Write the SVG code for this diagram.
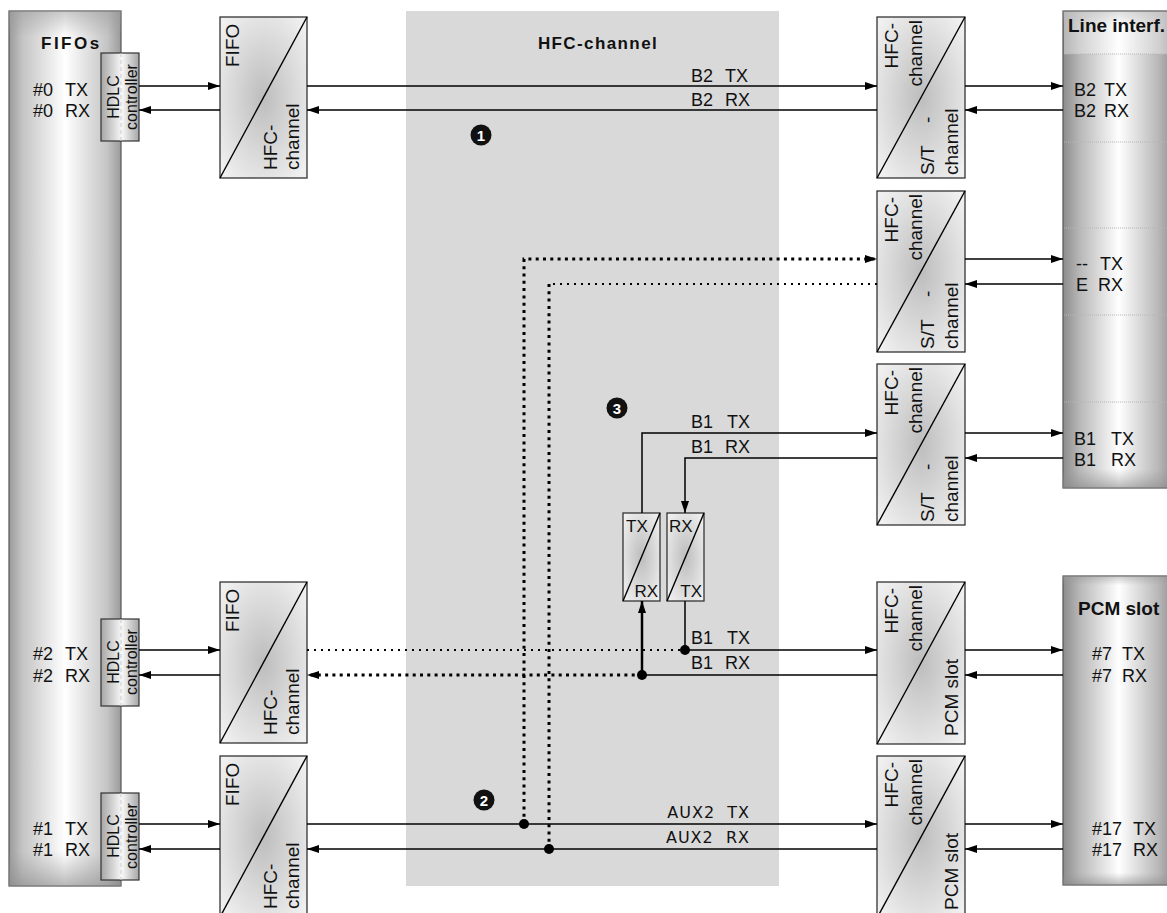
<svg xmlns="http://www.w3.org/2000/svg" width="1167" height="913" viewBox="0 0 1167 913">
<defs>
<radialGradient id="gBox" cx="50%" cy="50%" r="65%">
<stop offset="0" stop-color="#bdbdbd"/>
<stop offset="1" stop-color="#f0f0f0"/>
</radialGradient>
<linearGradient id="gFifos" x1="0" y1="0" x2="1" y2="0">
<stop offset="0" stop-color="#9a9a9a"/>
<stop offset="0.12" stop-color="#c4c4c4"/>
<stop offset="0.5" stop-color="#ffffff"/>
<stop offset="0.88" stop-color="#c4c4c4"/>
<stop offset="1" stop-color="#9a9a9a"/>
</linearGradient>
<linearGradient id="gVert" x1="0" y1="0" x2="0" y2="1">
<stop offset="0" stop-color="#999" stop-opacity="0.5"/>
<stop offset="0.03" stop-color="#999" stop-opacity="0"/>
<stop offset="0.96" stop-color="#999" stop-opacity="0"/>
<stop offset="1" stop-color="#888" stop-opacity="0.6"/>
</linearGradient>
<linearGradient id="gRight" x1="0" y1="0" x2="1" y2="0">
<stop offset="0" stop-color="#8c8c8c"/>
<stop offset="0.15" stop-color="#b8b8b8"/>
<stop offset="0.5" stop-color="#ffffff"/>
<stop offset="0.85" stop-color="#b8b8b8"/>
<stop offset="1" stop-color="#8c8c8c"/>
</linearGradient>
<linearGradient id="gHdlc" x1="0" y1="0" x2="1" y2="0">
<stop offset="0" stop-color="#a6a6a6"/>
<stop offset="0.55" stop-color="#f8f8f8"/>
<stop offset="1" stop-color="#a6a6a6"/>
</linearGradient>
<marker id="arr" markerUnits="userSpaceOnUse" markerWidth="13" markerHeight="9" refX="12" refY="4" orient="auto">
<path d="M0,0 L12,4 L0,8 z" fill="#000"/>
</marker>
<style>
text{font-family:"Liberation Sans",Arial,sans-serif;fill:#111;}
.lbl{font-size:18px;}
.ttl{font-size:17px;}
.rl{font-size:19px;}
.hd{font-size:16px;}
.title{font-weight:bold;}
.box{fill:url(#gBox);stroke:#333;stroke-width:1.3;}
.diag{stroke:#000;stroke-width:1.4;fill:none;}
.ln{stroke:#000;stroke-width:1.5;fill:none;}
.arr{marker-end:url(#arr);}
.dot{stroke:#000;stroke-width:3;stroke-dasharray:3 4.3;fill:none;}
.dotl{stroke:#000;stroke-width:2;stroke-dasharray:2 5;fill:none;}
.aux{font-family:"DejaVu Sans",Verdana,sans-serif;font-size:16px;letter-spacing:1px;}
.num{font-family:"Liberation Sans",Arial,sans-serif;font-weight:bold;font-size:15px;fill:#fff;}
.sep{stroke:#b5b5b5;stroke-width:1;stroke-dasharray:1 1;}
</style>
</defs>
<rect width="1167" height="913" fill="#fff"/>

<g id="hfc-channel-area">
<rect x="406" y="11" width="373" height="875" fill="#d9d9d9"/>
<text x="598" y="49" text-anchor="middle" class="ttl title" style="letter-spacing:1.4px">HFC-channel</text>
</g>

<g id="fifos">
<rect x="9" y="11" width="112" height="875" fill="url(#gFifos)" stroke="#555" stroke-width="1.2"/>
<rect x="9" y="11" width="112" height="875" fill="url(#gVert)"/>
<text x="41" y="49" class="ttl title" style="letter-spacing:2.5px">FIFOs</text>
<text y="96" class="lbl"><tspan x="33">#0</tspan><tspan x="65">TX</tspan></text>
<text y="117" class="lbl"><tspan x="33">#0</tspan><tspan x="65">RX</tspan></text>
<text y="660" class="lbl"><tspan x="33">#2</tspan><tspan x="65">TX</tspan></text>
<text y="682" class="lbl"><tspan x="33">#2</tspan><tspan x="65">RX</tspan></text>
<text y="835" class="lbl"><tspan x="33">#1</tspan><tspan x="65">TX</tspan></text>
<text y="856" class="lbl"><tspan x="33">#1</tspan><tspan x="65">RX</tspan></text>
</g>

<g id="hdlc0">
<rect x="101" y="53" width="38" height="88" fill="url(#gHdlc)" stroke="#333" stroke-width="1.2"/>
<line x1="121" y1="53" x2="121" y2="141" stroke="#ccc" stroke-dasharray="4 3"/>
<text transform="translate(119,97) rotate(-90)" text-anchor="middle" class="hd">HDLC</text>
<text transform="translate(137,97) rotate(-90)" text-anchor="middle" class="hd">controller</text>
</g>
<g id="hdlc2">
<rect x="101" y="619" width="38" height="87" fill="url(#gHdlc)" stroke="#333" stroke-width="1.2"/>
<line x1="121" y1="619" x2="121" y2="706" stroke="#ccc" stroke-dasharray="4 3"/>
<text transform="translate(119,662) rotate(-90)" text-anchor="middle" class="hd">HDLC</text>
<text transform="translate(137,662) rotate(-90)" text-anchor="middle" class="hd">controller</text>
</g>
<g id="hdlc1">
<rect x="101" y="793" width="38" height="87" fill="url(#gHdlc)" stroke="#333" stroke-width="1.2"/>
<line x1="121" y1="793" x2="121" y2="880" stroke="#ccc" stroke-dasharray="4 3"/>
<text transform="translate(119,836) rotate(-90)" text-anchor="middle" class="hd">HDLC</text>
<text transform="translate(137,836) rotate(-90)" text-anchor="middle" class="hd">controller</text>
</g>

<g id="fifo0">
<rect x="220" y="17" width="87" height="161" class="box"/>
<line x1="220" y1="178" x2="307" y2="17" class="diag"/>
<text transform="translate(239,67) rotate(-90)" class="rl">FIFO</text>
<text transform="translate(277,170) rotate(-90)" class="rl">HFC-</text>
<text transform="translate(299,170) rotate(-90)" class="rl">channel</text>
</g>
<g id="fifo2">
<rect x="220" y="582" width="87" height="161" class="box"/>
<line x1="220" y1="743" x2="307" y2="582" class="diag"/>
<text transform="translate(239,632) rotate(-90)" class="rl">FIFO</text>
<text transform="translate(277,735) rotate(-90)" class="rl">HFC-</text>
<text transform="translate(299,735) rotate(-90)" class="rl">channel</text>
</g>
<g id="fifo1">
<rect x="220" y="756" width="87" height="161" class="box"/>
<line x1="220" y1="917" x2="307" y2="756" class="diag"/>
<text transform="translate(239,806) rotate(-90)" class="rl">FIFO</text>
<text transform="translate(277,909) rotate(-90)" class="rl">HFC-</text>
<text transform="translate(299,909) rotate(-90)" class="rl">channel</text>
</g>

<g id="st-b2">
<rect x="877" y="17" width="88" height="161" class="box"/>
<line x1="877" y1="178" x2="965" y2="17" class="diag"/>
<text transform="translate(898,23) rotate(-90)" text-anchor="end" class="rl">HFC-</text>
<text transform="translate(922,20) rotate(-90)" text-anchor="end" class="rl">channel</text>
<text transform="translate(934,175) rotate(-90)" class="rl">S/T</text>
<text transform="translate(934,123) rotate(-90)" class="rl">-</text>
<text transform="translate(958,175) rotate(-90)" class="rl">channel</text>
</g>
<g id="st-e">
<rect x="877" y="191" width="88" height="161" class="box"/>
<line x1="877" y1="352" x2="965" y2="191" class="diag"/>
<text transform="translate(898,197) rotate(-90)" text-anchor="end" class="rl">HFC-</text>
<text transform="translate(922,194) rotate(-90)" text-anchor="end" class="rl">channel</text>
<text transform="translate(934,349) rotate(-90)" class="rl">S/T</text>
<text transform="translate(934,297) rotate(-90)" class="rl">-</text>
<text transform="translate(958,349) rotate(-90)" class="rl">channel</text>
</g>
<g id="st-b1">
<rect x="877" y="364" width="88" height="161" class="box"/>
<line x1="877" y1="525" x2="965" y2="364" class="diag"/>
<text transform="translate(898,370) rotate(-90)" text-anchor="end" class="rl">HFC-</text>
<text transform="translate(922,367) rotate(-90)" text-anchor="end" class="rl">channel</text>
<text transform="translate(934,522) rotate(-90)" class="rl">S/T</text>
<text transform="translate(934,470) rotate(-90)" class="rl">-</text>
<text transform="translate(958,522) rotate(-90)" class="rl">channel</text>
</g>
<g id="pcm-7">
<rect x="877" y="582" width="88" height="162" class="box"/>
<line x1="877" y1="744" x2="965" y2="582" class="diag"/>
<text transform="translate(898,588) rotate(-90)" text-anchor="end" class="rl">HFC-</text>
<text transform="translate(922,585) rotate(-90)" text-anchor="end" class="rl">channel</text>
<text transform="translate(958,736) rotate(-90)" class="rl">PCM slot</text>
</g>
<g id="pcm-17">
<rect x="877" y="756" width="88" height="162" class="box"/>
<line x1="877" y1="918" x2="965" y2="756" class="diag"/>
<text transform="translate(898,762) rotate(-90)" text-anchor="end" class="rl">HFC-</text>
<text transform="translate(922,759) rotate(-90)" text-anchor="end" class="rl">channel</text>
<text transform="translate(958,910) rotate(-90)" class="rl">PCM slot</text>
</g>

<g id="line-interf">
<rect x="1063" y="11" width="112" height="477" fill="url(#gRight)" stroke="#555" stroke-width="1.2"/>
<rect x="1063" y="11" width="112" height="477" fill="url(#gVert)"/>
<rect x="1064" y="12" width="110" height="42" fill="#fff" fill-opacity="0.35"/>
<line x1="1064" y1="54" x2="1167" y2="54" class="sep"/>
<line x1="1064" y1="142" x2="1167" y2="142" class="sep"/>
<line x1="1064" y1="228" x2="1167" y2="228" class="sep"/>
<line x1="1064" y1="315" x2="1167" y2="315" class="sep"/>
<line x1="1064" y1="402" x2="1167" y2="402" class="sep"/>
<text x="1068" y="32" class="title" style="font-size:19px">Line interf.</text>
<text y="96" class="lbl"><tspan x="1074">B2</tspan><tspan x="1104">TX</tspan></text>
<text y="117" class="lbl"><tspan x="1074">B2</tspan><tspan x="1104">RX</tspan></text>
<text y="270" class="lbl"><tspan x="1076">--</tspan><tspan x="1100">TX</tspan></text>
<text y="291" class="lbl"><tspan x="1076">E</tspan><tspan x="1098">RX</tspan></text>
<text y="445" class="lbl"><tspan x="1074">B1</tspan><tspan x="1111">TX</tspan></text>
<text y="466" class="lbl"><tspan x="1074">B1</tspan><tspan x="1111">RX</tspan></text>
</g>

<g id="pcm-slot">
<rect x="1063" y="576" width="112" height="309" fill="url(#gRight)" stroke="#555" stroke-width="1.2"/>
<rect x="1063" y="576" width="112" height="309" fill="url(#gVert)"/>
<text x="1078" y="615" class="title" style="font-size:19px">PCM slot</text>
<text y="660" class="lbl"><tspan x="1092">#7</tspan><tspan x="1122">TX</tspan></text>
<text y="682" class="lbl"><tspan x="1092">#7</tspan><tspan x="1122">RX</tspan></text>
<text y="835" class="lbl"><tspan x="1092">#17</tspan><tspan x="1133">TX</tspan></text>
<text y="856" class="lbl"><tspan x="1092">#17</tspan><tspan x="1133">RX</tspan></text>
</g>

<g id="conv-a">
<rect x="623" y="513" width="37" height="88" class="box"/>
<line x1="623" y1="601" x2="660" y2="513" class="diag"/>
<text x="626" y="532" class="ttl">TX</text>
<text x="658" y="597" text-anchor="end" class="ttl">RX</text>
</g>
<g id="conv-b">
<rect x="667" y="513" width="37" height="88" class="box"/>
<line x1="667" y1="601" x2="704" y2="513" class="diag"/>
<text x="669" y="532" class="ttl">RX</text>
<text x="702" y="597" text-anchor="end" class="ttl">TX</text>
</g>

<g id="connectors">
<!-- B2 -->
<line x1="139" y1="86" x2="220" y2="86" class="ln arr"/>
<line x1="220" y1="110" x2="139" y2="110" class="ln arr"/>
<line x1="307" y1="86" x2="877" y2="86" class="ln arr"/>
<line x1="877" y1="110" x2="307" y2="110" class="ln arr"/>
<line x1="965" y1="86" x2="1063" y2="86" class="ln arr"/>
<line x1="1063" y1="110" x2="965" y2="110" class="ln arr"/>
<text y="82" class="lbl"><tspan x="691">B2</tspan><tspan x="725">TX</tspan></text>
<text y="106" class="lbl"><tspan x="691">B2</tspan><tspan x="725">RX</tspan></text>
<!-- E -->
<path d="M524,824 V259 H877" class="dot arr"/>
<path d="M877,284 H549" class="dotl"/>
<path d="M549,284 V849" class="dot"/>
<line x1="965" y1="259" x2="1063" y2="259" class="ln arr"/>
<line x1="1063" y1="284" x2="965" y2="284" class="ln arr"/>
<!-- B1 S/T -->
<path d="M642,513 V433 H877" class="ln arr"/>
<path d="M877,458 H685 V513" class="ln arr"/>
<line x1="965" y1="433" x2="1063" y2="433" class="ln arr"/>
<line x1="1063" y1="458" x2="965" y2="458" class="ln arr"/>
<text y="428" class="lbl"><tspan x="691">B1</tspan><tspan x="727">TX</tspan></text>
<text y="453" class="lbl"><tspan x="691">B1</tspan><tspan x="725">RX</tspan></text>
<!-- PCM #7 -->
<line x1="139" y1="650" x2="220" y2="650" class="ln arr"/>
<line x1="220" y1="675" x2="139" y2="675" class="ln arr"/>
<path d="M307,650 H685" class="dotl"/>
<path d="M685,601 V650 H877" class="ln arr"/>
<path d="M877,675 H642" class="ln"/>
<path d="M642,675 V601" stroke="#000" stroke-width="2.5" fill="none" class="arr"/>
<path d="M642,675 H307" class="dot arr"/>
<line x1="965" y1="650" x2="1063" y2="650" class="ln arr"/>
<line x1="1063" y1="675" x2="965" y2="675" class="ln arr"/>
<text y="644" class="lbl"><tspan x="691">B1</tspan><tspan x="727">TX</tspan></text>
<text y="669" class="lbl"><tspan x="691">B1</tspan><tspan x="725">RX</tspan></text>
<circle cx="685" cy="650" r="5" fill="#000"/>
<circle cx="642" cy="675" r="5" fill="#000"/>
<!-- AUX2 -->
<line x1="139" y1="824" x2="220" y2="824" class="ln arr"/>
<line x1="220" y1="849" x2="139" y2="849" class="ln arr"/>
<line x1="307" y1="824" x2="877" y2="824" class="ln arr"/>
<line x1="877" y1="849" x2="307" y2="849" class="ln arr"/>
<line x1="965" y1="824" x2="1063" y2="824" class="ln arr"/>
<line x1="1063" y1="849" x2="965" y2="849" class="ln arr"/>
<text x="750" y="818" text-anchor="end" class="aux" xml:space="preserve">AUX2  TX</text>
<text x="750" y="843" text-anchor="end" class="aux" xml:space="preserve">AUX2  RX</text>
<circle cx="524" cy="824" r="5" fill="#000"/>
<circle cx="549" cy="849" r="5" fill="#000"/>
</g>

<g id="markers">
<circle cx="481" cy="135" r="10.5" fill="#111"/>
<text x="481" y="140.5" text-anchor="middle" class="num">1</text>
<circle cx="484" cy="800" r="10.5" fill="#111"/>
<text x="484" y="805.5" text-anchor="middle" class="num">2</text>
<circle cx="617" cy="408" r="10.5" fill="#111"/>
<text x="617" y="413.5" text-anchor="middle" class="num">3</text>
</g>
</svg>
